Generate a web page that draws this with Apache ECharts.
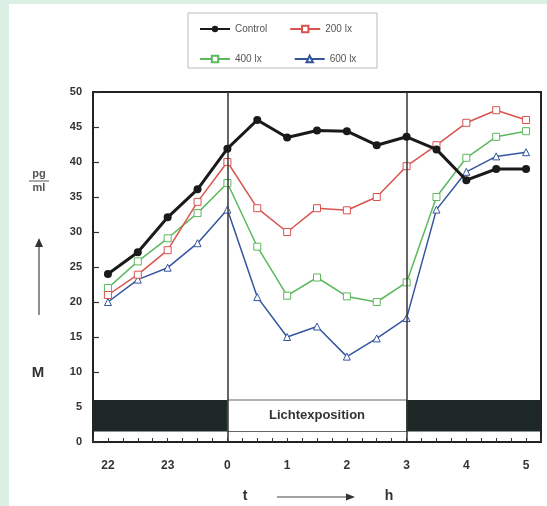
<!DOCTYPE html>
<html>
<head>
<meta charset="utf-8">
<script src="https://cdn.jsdelivr.net/npm/echarts@6/dist/echarts.min.js"></script>
<style>
  html, body { margin: 0; padding: 0; }
  #wrap { position: relative; width: 547px; height: 506px; background: #dcefe4; }
  #panel { position: absolute; left: 9px; top: 4px; right: 0; bottom: 0; background: #fff; }
  #main { position: absolute; left: 0; top: 0; width: 547px; height: 506px; }
</style>
</head>
<body>
<div id="wrap"><div id="panel"></div><div id="main"></div></div>
<script>
// hours relative to midnight (22:00 = -2)
var hours = [-2, -1.5, -1, -0.5, 0, 0.5, 1, 1.5, 2, 2.5, 3, 3.5, 4, 4.5, 5];
var control = [24, 27.1, 32.1, 36.1, 41.9, 46, 43.5, 44.5, 44.4, 42.4, 43.6, 41.8, 37.4, 39, 39];
var lx200 = [21, 23.9, 27.4, 34.3, 40, 33.4, 30, 33.4, 33.1, 35, 39.4, 42.4, 45.6, 47.4, 46];
var lx400 = [22, 25.8, 29.1, 32.7, 37, 27.9, 20.9, 23.5, 20.8, 20, 22.8, 35, 40.6, 43.6, 44.4];
var lx600 = [20, 23.2, 24.9, 28.4, 33.2, 20.7, 15, 16.5, 12.2, 14.8, 17.7, 33.2, 38.6, 40.8, 41.4];
var lightStart = 0, lightEnd = 3;
var bandLow = 1.5, bandHigh = 6;
var hourLabels = { '-2': '22', '-1': '23', '0': '0', '1': '1', '2': '2', '3': '3', '4': '4', '5': '5' };

var font = 'Liberation Sans';
var xMin = -2.25, xMax = 5.25;

function pairs(arr) {
  return hours.map(function (h, i) { return [h, arr[i]]; });
}

var chart = echarts.init(document.getElementById('main'));

var option = {
  animation: false,
  backgroundColor: 'transparent',
  textStyle: { fontFamily: font },
  grid: {
    left: 93, right: 6, top: 92, bottom: 64,
    show: true, borderColor: '#222', borderWidth: 2, backgroundColor: '#fff'
  },
  legend: [{
    left: 194, top: 19, itemWidth: 30, itemHeight: 8, itemGap: 22,
    textStyle: { fontSize: 10, color: '#555', fontFamily: font },
    data: ['Control', '200 lx']
  }, {
    left: 194, top: 49, itemWidth: 30, itemHeight: 8, itemGap: 32,
    textStyle: { fontSize: 10, color: '#555', fontFamily: font },
    data: ['400 lx', '600 lx']
  }],
  xAxis: {
    type: 'value', min: xMin, max: xMax, interval: 0.25,
    splitLine: { show: false },
    axisLine: { onZero: false, lineStyle: { color: '#222', width: 2 } },
    axisTick: { inside: true, length: 4, lineStyle: { color: '#333' } },
    axisLabel: {
      margin: 18, fontSize: 12, fontWeight: 'bold', color: '#333',
      formatter: function (v) {
        var k = String(Math.round(v * 100) / 100);
        return hourLabels[k] !== undefined ? hourLabels[k] : '';
      }
    }
  },
  yAxis: {
    type: 'value', min: 0, max: 50, interval: 5,
    splitLine: { show: false },
    axisLine: { onZero: false, lineStyle: { color: '#222', width: 2 } },
    axisTick: { inside: true, length: 6, lineStyle: { color: '#333', width: 1.2 } },
    axisLabel: { margin: 11, fontSize: 11, fontWeight: 'bold', color: '#333' }
  },
  graphic: [
    { type: 'rect', shape: { x: 188, y: 13, width: 189, height: 55 },
      style: { fill: 'none', stroke: '#bbb', lineWidth: 1 } },
    { type: 'text', x: 39, y: 174, style: { text: 'pg', font: 'bold 11px ' + font, fill: '#555', align: 'center', verticalAlign: 'middle' } },
    { type: 'line', shape: { x1: 29, y1: 181, x2: 49, y2: 181 }, style: { stroke: '#555', lineWidth: 1 } },
    { type: 'text', x: 39, y: 188, style: { text: 'ml', font: 'bold 11px ' + font, fill: '#555', align: 'center', verticalAlign: 'middle' } },
    { type: 'line', shape: { x1: 39, y1: 315, x2: 39, y2: 246 }, style: { stroke: '#444', lineWidth: 1.2 } },
    { type: 'polygon', shape: { points: [[35, 247], [43, 247], [39, 238]] }, style: { fill: '#333' } },
    { type: 'text', x: 38, y: 373, style: { text: 'M', font: 'bold 15px ' + font, fill: '#333', align: 'center', verticalAlign: 'middle' } },
    { type: 'text', x: 245, y: 496, style: { text: 't', font: 'bold 14px ' + font, fill: '#333', align: 'center', verticalAlign: 'middle' } },
    { type: 'line', shape: { x1: 277, y1: 497, x2: 348, y2: 497 }, style: { stroke: '#444', lineWidth: 1.2 } },
    { type: 'polygon', shape: { points: [[346, 493.5], [346, 500.5], [355, 497]] }, style: { fill: '#333' } },
    { type: 'text', x: 389, y: 496, style: { text: 'h', font: 'bold 14px ' + font, fill: '#333', align: 'center', verticalAlign: 'middle' } }
  ],
  series: [{
    name: 'Control', type: 'line', data: pairs(control),
    symbol: 'circle', symbolSize: 8, z: 5,
    itemStyle: { color: '#1a1a1a' }, lineStyle: { color: '#1a1a1a', width: 3 },
    markArea: {
      silent: true,
      data: [
        [{ xAxis: xMin, yAxis: bandLow, itemStyle: { color: '#1d2826' } }, { xAxis: lightStart, yAxis: bandHigh }],
        [{ xAxis: lightStart, yAxis: bandLow, itemStyle: { color: '#fff', borderColor: '#666', borderWidth: 1 },
           label: { show: true, position: 'inside', formatter: 'Lichtexposition', fontSize: 13, fontWeight: 'bold', color: '#333', fontFamily: font } },
         { xAxis: lightEnd, yAxis: bandHigh }],
        [{ xAxis: lightEnd, yAxis: bandLow, itemStyle: { color: '#1d2826' } }, { xAxis: xMax, yAxis: bandHigh }]
      ]
    },
    markLine: {
      silent: true, symbol: 'none', label: { show: false },
      lineStyle: { color: '#333', width: 1.5, type: 'solid' },
      data: [{ xAxis: lightStart }, { xAxis: lightEnd }]
    }
  }, {
    name: '200 lx', type: 'line', data: pairs(lx200),
    symbol: 'rect', symbolSize: 7, z: 4,
    itemStyle: { color: '#fff', borderColor: '#d9534f', borderWidth: 1 },
    lineStyle: { color: '#d9534f', width: 1.5 }
  }, {
    name: '400 lx', type: 'line', data: pairs(lx400),
    symbol: 'rect', symbolSize: 7, z: 3,
    itemStyle: { color: '#fff', borderColor: '#5cb85c', borderWidth: 1 },
    lineStyle: { color: '#5cb85c', width: 1.5 }
  }, {
    name: '600 lx', type: 'line', data: pairs(lx600),
    symbol: 'triangle', symbolSize: 7, z: 2,
    itemStyle: { color: '#fff', borderColor: '#34559e', borderWidth: 1 },
    lineStyle: { color: '#34559e', width: 1.5 }
  }]
};

chart.setOption(option);
</script>
</body>
</html>
